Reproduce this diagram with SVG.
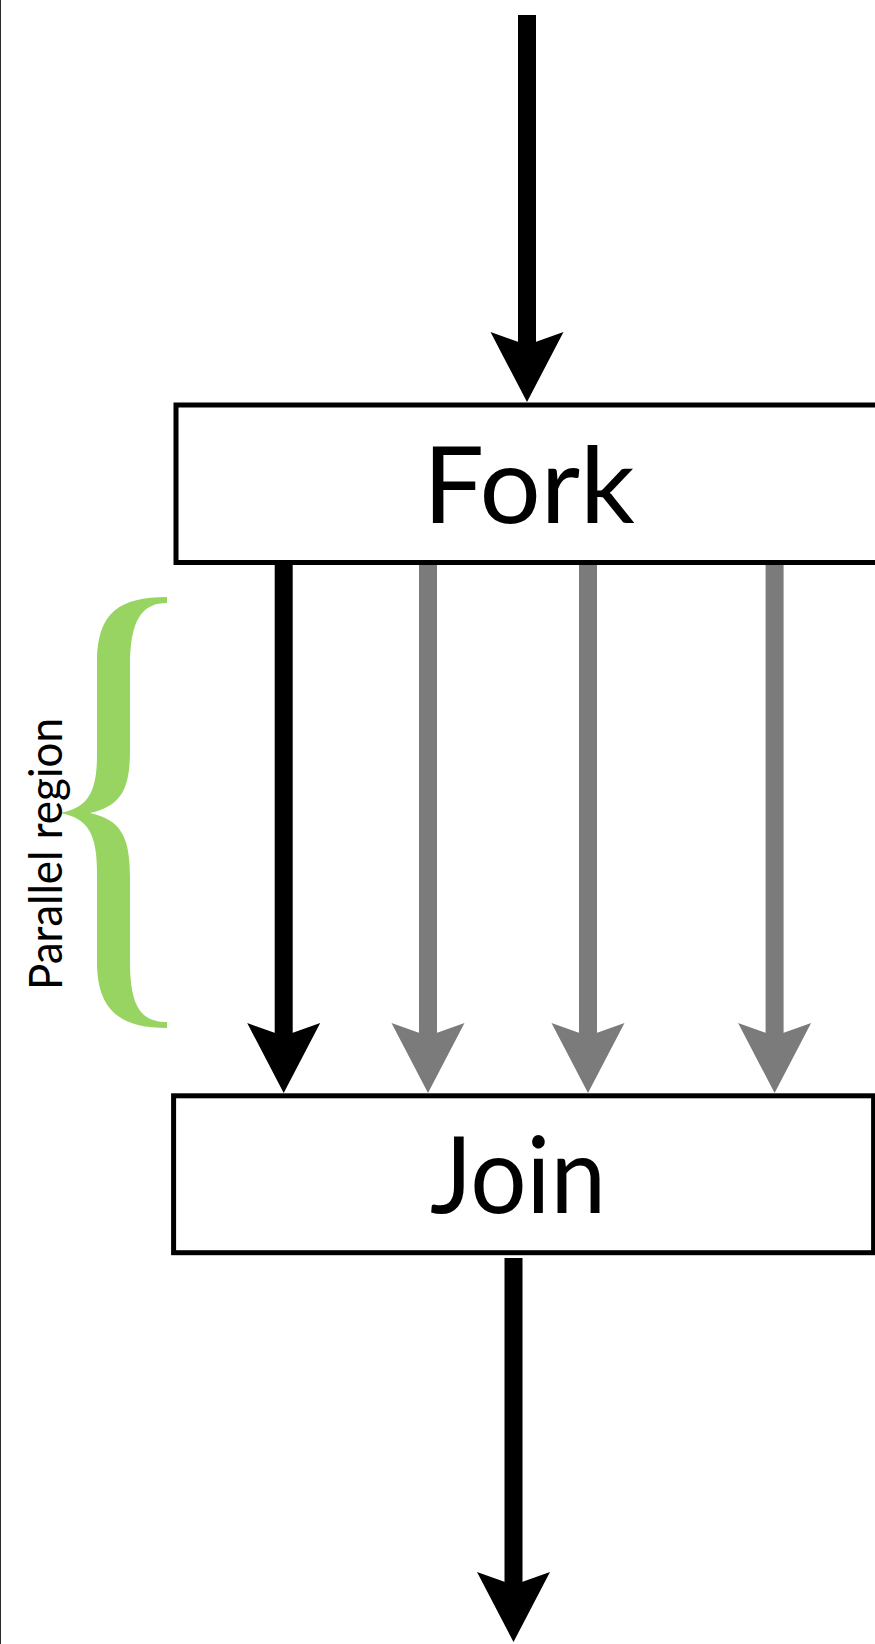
<svg xmlns="http://www.w3.org/2000/svg" width="875" height="1644" viewBox="0 0 875 1644">
  <style>
    .box { fill: #ffffff; stroke: #000000; stroke-width: 5; }
    .label { font-family: Lato, "Open Sans", "Liberation Sans", sans-serif; fill: #000000; }
    .big { font-size: 107px; }
    .small { font-size: 46px; }
    .edge-black { stroke: #000000; stroke-width: 18; fill: none; marker-end: url(#headBlack); }
    .edge-gray { stroke: #7b7b7b; stroke-width: 18; fill: none; marker-end: url(#headGray); }
  </style>
  <defs>
    <marker id="headBlack" markerUnits="userSpaceOnUse" viewBox="-75 -40 80 80" markerWidth="80" markerHeight="80" refX="-57" refY="0" orient="auto">
      <path d="M0,0 L-70,-36.5 L-57,0 L-70,36.5 Z" fill="#000000"/>
    </marker>
    <marker id="headGray" markerUnits="userSpaceOnUse" viewBox="-75 -40 80 80" markerWidth="80" markerHeight="80" refX="-57" refY="0" orient="auto">
      <path d="M0,0 L-70,-36.5 L-57,0 L-70,36.5 Z" fill="#7b7b7b"/>
    </marker>
  </defs>
  <rect x="0" y="0" width="875" height="1644" fill="#ffffff"/>
  <line x1="0.5" y1="0" x2="0.5" y2="1644" stroke="#2a2a2a" stroke-width="1"/>

  <g id="connectors">
    <line class="edge-black" x1="527" y1="15" x2="527" y2="345"/>
    <line class="edge-black" x1="283.7" y1="565" x2="283.7" y2="1036"/>
    <line class="edge-gray" x1="428" y1="565" x2="428" y2="1036"/>
    <line class="edge-gray" x1="588" y1="565" x2="588" y2="1036"/>
    <line class="edge-gray" x1="774.6" y1="565" x2="774.6" y2="1036"/>
    <line class="edge-black" x1="513.5" y1="1258" x2="513.5" y2="1585"/>
  </g>

  <g id="fork">
    <rect class="box" x="176" y="405" width="702" height="157.5"/>
    <text class="label big" x="423" y="523.3" textLength="212" lengthAdjust="spacingAndGlyphs">Fork</text>
  </g>

  <g id="join">
    <rect class="box" x="173.6" y="1095.8" width="700" height="156.9"/>
    <text class="label big" x="430" y="1213.3" textLength="176" lengthAdjust="spacingAndGlyphs">Join</text>
  </g>

  <g id="parallel-region">
    <path fill="#98d462" d="M167,597 C120,597 97,612 97,662 L97,755 C97,792 88,808 60,813 C88,818 97,834 97,872 L97,962 C97,1010 120,1028 167,1028 L167,1022 C142,1022 130,1008 130,962 L130,878 C130,838 122,820 90,813 C122,806 130,788 130,750 L130,666 C130,620 142,603 167,603 Z"/>
    <text class="label small" transform="translate(62,990) rotate(-90)" x="0" y="0" textLength="272" lengthAdjust="spacingAndGlyphs">Parallel region</text>
  </g>
</svg>
